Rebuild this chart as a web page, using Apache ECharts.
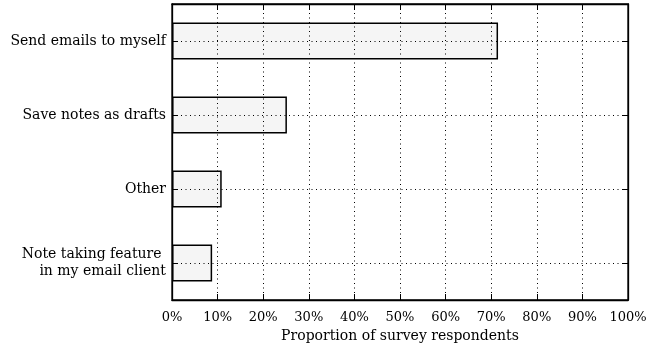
<!DOCTYPE html>
<html>
<head>
<meta charset="utf-8">
<script src="https://cdn.jsdelivr.net/npm/echarts@6/dist/echarts.min.js"></script>
<style>html,body{margin:0;padding:0;background:#fff}#c{width:661px;height:347px}</style>
</head>
<body>
<div id="c"></div>
<script>
const categories = ['Note taking feature \nin my email client', 'Other', 'Save notes as drafts', 'Send emails to myself'];
const values = [8.8, 10.9, 25.2, 71.5];
const xTicks = { min: 0, max: 100, interval: 10 };
const axisTitle = 'Proportion of survey respondents';

const FONT = 'DejaVu Serif';
const chart = echarts.init(document.getElementById('c'), null, { renderer: 'canvas' });
const dotted = { color: '#000', width: 1, type: [1, 3.5] };
const tickStyle = { show: true, inside: true, length: 6, lineStyle: { color: '#000', width: 1 } };
chart.setOption({
  animation: false,
  textStyle: { fontFamily: FONT },
  grid: { left: 172, right: 33, top: 4, bottom: 47, outerBoundsMode: 'none', containLabel: false, show: true, borderColor: '#000', borderWidth: 1.3, backgroundColor: 'transparent' },
  xAxis: [{
    type: 'value', min: xTicks.min, max: xTicks.max, interval: xTicks.interval, position: 'bottom',
    axisLine: { show: true, onZero: false, lineStyle: { color: '#000', width: 1.3 } },
    axisTick: tickStyle,
    axisLabel: { color: '#000', fontFamily: FONT, fontSize: 13, margin: 11, formatter: v => v + '%' },
    splitLine: { show: true, lineStyle: dotted },
    name: axisTitle, nameLocation: 'middle', nameGap: 26,
    nameTextStyle: { color: '#000', fontFamily: FONT, fontSize: 14 }
  }, {
    type: 'value', min: xTicks.min, max: xTicks.max, interval: xTicks.interval, position: 'top',
    axisLine: { show: true, onZero: false, lineStyle: { color: '#000', width: 1.3 } },
    axisTick: tickStyle,
    axisLabel: { show: false }, splitLine: { show: false }
  }],
  yAxis: [{
    type: 'category', data: categories, position: 'left',
    axisLine: { show: true, onZero: false, lineStyle: { color: '#000', width: 1.3 } },
    axisTick: Object.assign({}, tickStyle, { alignWithLabel: true }),
    axisLabel: { color: '#000', fontFamily: FONT, fontSize: 14, margin: 6, align: 'right', lineHeight: 17 },
    splitLine: { show: false }
  }, {
    type: 'category', data: categories, position: 'right',
    axisLine: { show: true, onZero: false, lineStyle: { color: '#000', width: 1.3 } },
    axisTick: Object.assign({}, tickStyle, { alignWithLabel: true }),
    axisLabel: { show: false }, splitLine: { show: false }
  }],
  series: [{
    type: 'bar', data: values, xAxisIndex: 0, yAxisIndex: 0,
    barCategoryGap: '50%',
    itemStyle: { color: 'rgba(0,0,0,0.04)', borderColor: '#000', borderWidth: 1.5 },
    markLine: {
      silent: true, symbol: 'none', label: { show: false },
      lineStyle: dotted,
      data: categories.map(c => ({ yAxis: c }))
    }
  }]
});
</script>
</body>
</html>
